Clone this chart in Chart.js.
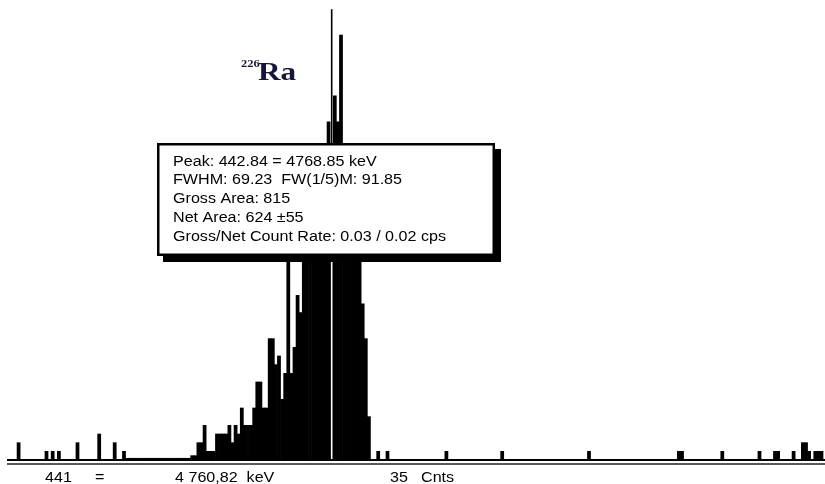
<!DOCTYPE html>
<html>
<head>
  <title>226Ra peak</title>
  <script src="https://cdn.jsdelivr.net/npm/chart.js"></script>
  <style>
    body {
      margin: 0;
      background: #fff;
    }
    #wrap {
      width: 825px;
      height: 484px;
    }
  </style>
</head>
<body>
  <div id="wrap"><canvas id="spectrum" width="825" height="484"></canvas></div>

  <script>
    // channel numbers that hold counts (empty channels are left out)
    const channels = [
      340, 349, 351, 353, 359, 366, 371, 374,
      375, 376, 377, 378, 379, 380, 381, 382, 383, 384, 385, 386, 387, 388, 389, 390, 391, 392, 393, 394, 395,
      396, 397, 398, 399, 400, 401, 402, 403, 404, 405, 406, 407, 408, 409, 410, 411, 412, 413, 414, 415,
      416, 417, 418, 419, 420, 421, 422, 423, 424, 425, 426, 427, 428, 429, 430, 431,
      432, 433, 434, 435, 436, 437, 438, 439, 440, 441, 442, 443, 444, 445, 446, 447, 448, 449, 450,
      451, 452, 453,
      456, 459, 478, 496, 524, 553, 554, 567, 579, 584, 585, 590,
      593, 594, 595, 597, 598, 599
    ];
    const counts = [
      2, 1, 1, 1, 2, 3, 2, 1,
      0.2, 0.2, 0.2, 0.2, 0.2, 0.2, 0.2, 0.2, 0.2, 0.2, 0.2, 0.2, 0.2, 0.2, 0.2, 0.2, 0.2, 0.2, 0.2, 0.2, 0.2,
      0.5, 0.5, 2, 2, 4, 1, 1, 1, 3, 3, 3, 3, 4, 2, 4, 3, 6, 4, 4, 4,
      6, 9, 9, 6, 6, 14, 14, 11, 12, 7, 10, 30, 10, 13, 19, 17,
      26, 24, 28, 27, 31, 29, 34, 33, 39, 35, 42, 39, 49, 34, 36, 31, 33, 28, 24,
      18, 14, 5,
      1, 1, 1, 1, 1, 1, 1, 1, 1, 1, 1, 1,
      2, 2, 1, 1, 1, 1
    ];

    // visible part of the spectrum
    const firstChannel = 336.26;
    const lastChannel = 600.13;
    const fullScale = 53.06;

    // cursor and the status line under the spectrum
    const cursorChannel = 441;
    const cursorTop = 52;
    const cursorEnergy = "4 760,82";

    const peakReport = [
      "Peak: 442.84 = 4768.85 keV",
      "FWHM: 69.23  FW(1/5)M: 91.85",
      "Gross Area: 815",
      "Net Area: 624 \u00b155",
      "Gross/Net Count Rate: 0.03 / 0.02 cps"
    ];

    const SANS = "Liberation Sans, Arial, sans-serif";
    const SERIF = "Liberation Serif, 'Times New Roman', serif";

    // the screenshot is a bit wider than tall, so text is stretched
    function wideText(ctx, str, x, y, font, color, sx) {
      sx = sx || 1.15;
      ctx.save();
      ctx.translate(x, y);
      ctx.scale(sx, 1);
      ctx.font = font;
      ctx.fillStyle = color;
      ctx.textBaseline = "alphabetic";
      ctx.fillText(str, 0, 0);
      const w = ctx.measureText(str).width * sx;
      ctx.restore();
      return w;
    }

    const decor = {
      id: "decor",
      beforeDraw(chart) {
        const ctx = chart.ctx;
        ctx.save();
        ctx.fillStyle = "#fff";
        ctx.fillRect(0, 0, chart.width, chart.height);
        ctx.restore();
      },
      afterDatasetsDraw(chart) {
        const ctx = chart.ctx;
        const area = chart.chartArea;
        const xs = chart.scales.x;
        const ys = chart.scales.y;

        // cursor drawn like an XOR line: white on the bars, black on paper
        const cx = xs.getPixelForValue(cursorChannel);
        const top = ys.getPixelForValue(cursorTop);
        ctx.save();
        ctx.globalCompositeOperation = "difference";
        ctx.fillStyle = "#fff";
        ctx.fillRect(cx - 0.8, top, 1.6, area.bottom - top);
        ctx.restore();

        // double base line
        ctx.save();
        ctx.fillStyle = "#000";
        ctx.fillRect(area.left, area.bottom - 1, area.right - area.left, 2);
        ctx.fillStyle = "#5a5a5a";
        ctx.fillRect(area.left, area.bottom + 3, area.right - area.left, 2);
        ctx.restore();
      },
      afterDraw(chart) {
        const ctx = chart.ctx;

        // peak report box with its shadow
        ctx.save();
        ctx.fillStyle = "#000";
        ctx.fillRect(163, 149, 338, 113);
        ctx.fillStyle = "#fff";
        ctx.fillRect(157, 143, 338, 113);
        ctx.strokeStyle = "#000";
        ctx.lineWidth = 2.5;
        ctx.strokeRect(158.25, 144.25, 335.5, 110.5);
        ctx.restore();

        peakReport.forEach((line, i) => {
          wideText(ctx, line, 173, 165.5 + i * 18.75, "14px " + SANS, "#000");
        });

        // nuclide label
        wideText(ctx, "226", 241, 67, "bold 10px " + SERIF, "#16163a", 1.25);
        wideText(ctx, "Ra", 258, 80, "bold 25px " + SERIF, "#16163a", 1.25);

        // status line: channel, energy, counts under the cursor
        const cursorCounts = counts[channels.indexOf(cursorChannel)];
        const yb = 481.5;
        wideText(ctx, String(cursorChannel), 45, yb, "14px " + SANS, "#000");
        wideText(ctx, "=", 95, yb, "14px " + SANS, "#000");
        wideText(ctx, cursorEnergy + "  keV", 175, yb, "14px " + SANS, "#000");
        wideText(ctx, String(cursorCounts), 390, yb, "14px " + SANS, "#000");
        wideText(ctx, "Cnts", 421, yb, "14px " + SANS, "#000");
      }
    };

    new Chart(document.getElementById("spectrum"), {
      type: "bar",
      data: {
        datasets: [{
          data: channels.map((c, i) => ({ x: c, y: counts[i] })),
          backgroundColor: "#000",
          borderWidth: 0,
          barPercentage: 1,
          categoryPercentage: 1
        }]
      },
      options: {
        responsive: false,
        animation: false,
        devicePixelRatio: 1,
        layout: {
          padding: { left: 7, right: 0, top: 0, bottom: 24 }
        },
        scales: {
          x: {
            type: "linear",
            min: firstChannel,
            max: lastChannel,
            offset: false,
            display: false
          },
          y: {
            min: 0,
            max: fullScale,
            display: false
          }
        },
        plugins: {
          legend: { display: false },
          tooltip: { enabled: false }
        }
      },
      plugins: [decor]
    });
  </script>
</body>
</html>
